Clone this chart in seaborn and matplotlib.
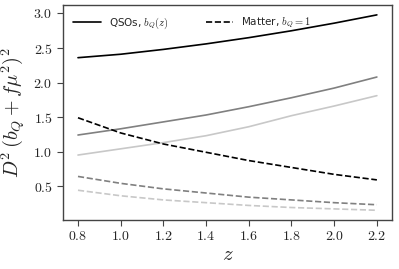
import matplotlib
matplotlib.use("Agg")
import matplotlib.pyplot as plt
import seaborn as sns

# redshift grid
z = [0.8, 1.0, 1.2, 1.4, 1.6, 1.8, 2.0, 2.2]

# QSOs with b_Q(z), three mu values (solid)
qso_mu1 = [2.36, 2.41, 2.48, 2.56, 2.65, 2.75, 2.86, 2.98]
qso_mu2 = [1.24, 1.33, 1.43, 1.53, 1.65, 1.78, 1.92, 2.08]
qso_mu3 = [0.95, 1.04, 1.13, 1.23, 1.36, 1.52, 1.66, 1.81]

# matter, b_Q = 1 (dashed)
mat_mu1 = [1.49, 1.27, 1.11, 0.99, 0.87, 0.77, 0.67, 0.59]
mat_mu2 = [0.64, 0.54, 0.46, 0.40, 0.34, 0.30, 0.26, 0.23]
mat_mu3 = [0.44, 0.36, 0.30, 0.26, 0.22, 0.19, 0.17, 0.15]

sns.set_style("ticks")
plt.rcParams['font.family'] = 'serif'
plt.rcParams['font.serif'] = ['cmr10', 'DejaVu Serif']
plt.rcParams['mathtext.fontset'] = 'cm'
plt.rcParams['axes.formatter.use_mathtext'] = True

fig = plt.figure(figsize=(3.99, 2.69), dpi=100)
ax = fig.add_axes([0.158, 0.182, 0.824, 0.799])

cols = ['black', '#808080', '#c8c8c8']

#solid lines
sns.lineplot(x=z, y=qso_mu1, color=cols[0], lw=1.2, ax=ax, label=r'QSOs, $b_Q(z)$')
sns.lineplot(x=z, y=qso_mu2, color=cols[1], lw=1.2, ax=ax)
sns.lineplot(x=z, y=qso_mu3, color=cols[2], lw=1.2, ax=ax)

#dashed lines
sns.lineplot(x=z, y=mat_mu1, color=cols[0], lw=1.2, ls='--', ax=ax, label=r'Matter, $b_Q=1$')
sns.lineplot(x=z, y=mat_mu2, color=cols[1], lw=1.2, ls='--', ax=ax)
sns.lineplot(x=z, y=mat_mu3, color=cols[2], lw=1.2, ls='--', ax=ax)

ax.set_xticks([0.8, 1.0, 1.2, 1.4, 1.6, 1.8, 2.0, 2.2])
ax.set_yticks([0.5, 1.0, 1.5, 2.0, 2.5, 3.0])
ax.tick_params(labelsize=10, length=4, color='#444444')
for s in ax.spines.values():
    s.set_color('#444444')
    s.set_linewidth(1.0)

ax.set_xlabel(r'$z$', fontsize=15, labelpad=2)
ax.set_ylabel(r'$D^2\,(b_Q + f\mu^2)^2$', fontsize=14.5)

ax.legend(loc='upper left', ncol=2, frameon=False, handlelength=2.6,
          prop={'family': 'DejaVu Sans', 'size': 7.5}, columnspacing=3.6,
          borderaxespad=0.6)

fig.savefig('out.png', dpi=100)
